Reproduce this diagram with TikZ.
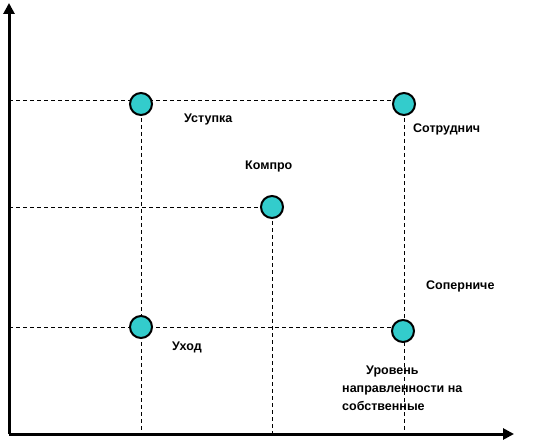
\documentclass[tikz,border=0pt]{standalone}
\usepackage{fontspec}
\setmainfont{Liberation Sans}
\usetikzlibrary{arrows.meta}
\begin{document}
\begin{tikzpicture}[x=1pt,y=-1pt,
  axis/.style={line width=3pt,-{Triangle[length=11pt,width=11pt]}},
  guide/.style={line width=0.7pt,dash pattern=on 4pt off 3pt},
  pt/.style={circle,draw=black,line width=2pt,fill=turq,minimum size=22pt,inner sep=0pt},
  lbl/.style={font=\bfseries\fontsize{12.5}{14}\selectfont,inner sep=0pt,anchor=base west}]
\definecolor{turq}{HTML}{33CCCC}
\useasboundingbox (0,0) rectangle (539,444);
% axes
\coordinate (O) at (9,434);
\coordinate (ytop) at (9,3);
\coordinate (xend) at (514,434);
% guide coordinates
\coordinate (h1) at (9,100);
\coordinate (h2) at (9,207);
\coordinate (h3) at (9,327);
\coordinate (b1) at (141,434);
\coordinate (b2) at (272,434);
\coordinate (b3) at (404,434);
\coordinate (cust) at (141,104);
\coordinate (csot) at (404,104);
\coordinate (ckom) at (272,207);
\coordinate (cuh) at (141,327);
\coordinate (csop) at (403,331);
% guides
\draw[guide] (h1) -- (csot |- h1);
\draw[guide] (h2) -- (ckom);
\draw[guide] (h3) -- (csop |- h3);
\draw[guide] (cust) -- (b1);
\draw[guide] (ckom) -- (b2);
\draw[guide] (csot) -- (b3);
% points
\node[pt] (ust) at (cust) {};
\node[pt] (sot) at (csot) {};
\node[pt] (kom) at (ckom) {};
\node[pt] (uh) at (cuh) {};
\node[pt] (sop) at (csop) {};
\draw[axis] (O) -- (ytop);
\draw[axis] (O) -- (xend);
% labels
\node[lbl] (tust) at (184,123) {Уступка};
\node[lbl] (tsot) at (413,132) {Сотруднич};
\node[lbl] (tkom) at (245,169) {Компро};
\node[lbl] (tsop) at (426,289) {Соперниче};
\node[lbl] (tuh) at (172,350) {Уход};
\node[lbl] (tur1) at (366,374) {Уровень};
\node[lbl] (tur2) at (342,392) {направленности на};
\begin{scope}
\clip (330,400) rectangle (480,412);
\node[lbl] (tur3) at (342,410) {собственные};
\end{scope}
\end{tikzpicture}
\end{document}
